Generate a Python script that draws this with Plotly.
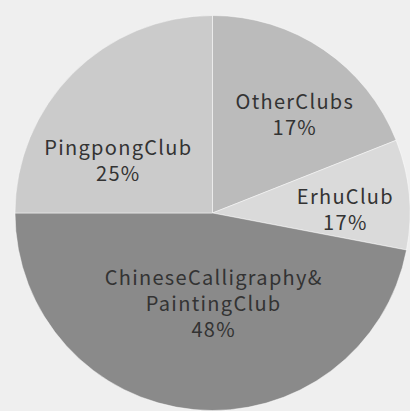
import plotly.graph_objects as go

labels = ["OtherClubs", "ErhuClub", "ChineseCalligraphy&<br>PaintingClub", "PingpongClub"]
values = [19, 9, 47, 25]
shown_pct = ["17%", "17%", "48%", "25%"]
colors = ["#bbbbbb", "#dadada", "#8a8a8a", "#cbcbcb"]

# label block centres in window pixels (layout only)
label_px = [(295, 113), (345, 209), (214, 302), (118, 159)]

W, H = 410, 411
ML, MT = 15, 15
PW, PH = W - ML, H - MT

fig = go.Figure(go.Pie(
    labels=labels,
    values=values,
    textinfo="none",
    sort=False,
    direction="clockwise",
    rotation=0,
    marker=dict(colors=colors, line=dict(color="rgba(255,255,255,0.45)", width=1)),
    hoverinfo="skip",
    showlegend=False,
))

for lab, pct, (px, py) in zip(labels, shown_pct, label_px):
    fig.add_annotation(
        text=f"{lab}<br>{pct}",
        x=(px - ML) / PW, y=1 - (py - MT) / PH,
        xref="paper", yref="paper",
        xanchor="center", yanchor="middle",
        showarrow=False,
        align="center",
        font=dict(family="Noto Sans CJK SC, Noto Sans, sans-serif", size=20, color="#333333"),
    )

fig.update_layout(
    width=W, height=H,
    margin=dict(l=ML, t=MT, r=0, b=0),
    paper_bgcolor="#efefef",
    plot_bgcolor="#efefef",
)

fig.write_html(
    "out.html",
    post_script="document.querySelectorAll('.annotation-text').forEach(function(t){t.style.letterSpacing='1.3px';});",
)
